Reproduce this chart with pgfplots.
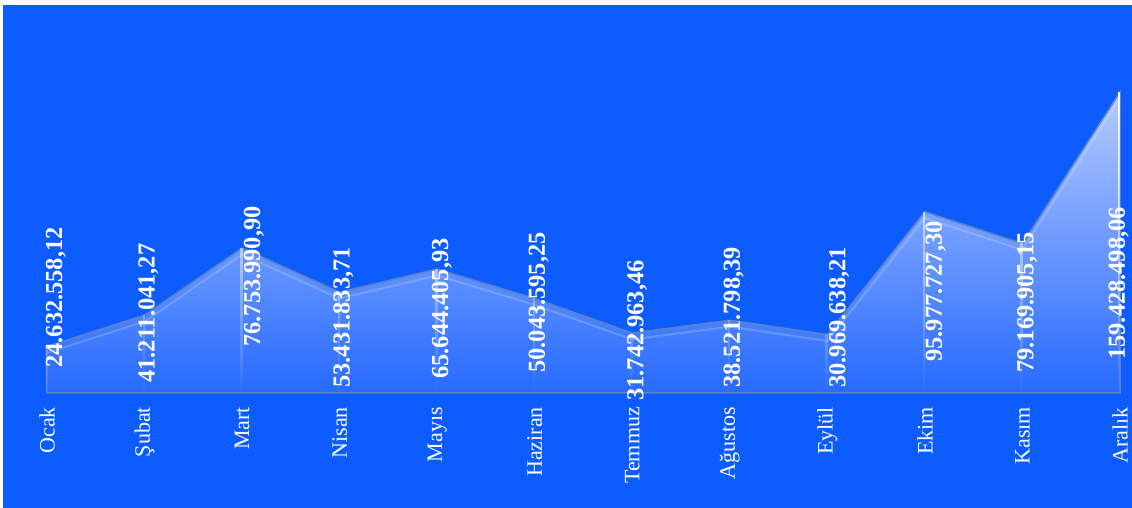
\documentclass[border=0pt]{standalone}
\usepackage{pgfplots}
\pgfplotsset{compat=1.18}
\usepackage{pgfplotstable}
\usepackage{fontspec}
\setmainfont{Liberation Serif}
\usetikzlibrary{fadings}
\definecolor{bg}{RGB}{12,92,255}
\definecolor{edge}{RGB}{92,130,196}
\definecolor{topc}{RGB}{180,202,255}
\definecolor{botc}{RGB}{38,106,255}

\pgfplotstableread{
x y
0 24.632558
1 41.211041
2 76.753991
3 53.431834
4 65.644406
5 50.043595
6 31.742963
7 38.521798
8 30.969638
9 95.977727
10 79.169905
11 159.428498
}\values

\pgfplotstableread{
x y label
0.154 13.24 24.632.558,12
1.103 5.29 41.211.041,27
2.185 24.36 76.753.990,90
3.103 2.65 53.431.833,71
4.113 7.41 65.644.405,93
5.103 10.59 50.043.595,25
6.113 -4.24 31.742.963,46
7.103 2.65 38.521.798,39
8.185 2.65 30.969.638,21
9.174 16.41 95.977.727,30
10.113 10.59 79.169.905,15
11.051 17.47 159.428.498,06
}\labels

\begin{document}
\begin{tikzpicture}[x=1pt,y=1pt]
\useasboundingbox (-23.5,-57.5) rectangle (542.5,196.5);
\fill[white] (-23.5,-57.5) rectangle (542.5,196.5);
\fill[bg] (-22,-57.5) rectangle (542.5,194);
\begin{axis}[
  at={(0,0)}, anchor=south west,
  scale only axis, width=536.5pt, height=150.5pt,
  xmin=0, xmax=11, ymin=0, ymax=159.428498,
  clip=false,
  axis line style={draw=none},
  tick style={draw=none},
  ytick=\empty,
  xtick={0,...,11},
  xticklabels={Ocak,Şubat,Mart,Nisan,Mayıs,Haziran,Temmuz,Ağustos,Eylül,Ekim,Kasım,Aralık},
  xticklabel style={yshift=-3.5pt, rotate=90, anchor=east, text=white, font=\fontsize{11}{13}\selectfont},
]
\addplot[draw=edge, line width=0.75pt, shading=axis, top color=topc, bottom color=botc] table[x=x,y=y] {\values} \closedcycle;
\addplot[white, opacity=0.18, line width=1pt, yshift=-3.2pt] table[x=x,y=y] {\values};
\addplot[ycomb, white, line width=1.2pt, path fading=south] table[x=x,y=y] {\values};
\addplot[draw=none, mark=none, nodes near coords, point meta=explicit symbolic,
  nodes near coords style={rotate=90, anchor=base west, inner sep=0pt, text=white, font=\bfseries\fontsize{12.2}{14}\selectfont}]
  table[x=x,y=y,meta=label] {\labels};
\end{axis}
\end{tikzpicture}
\end{document}
